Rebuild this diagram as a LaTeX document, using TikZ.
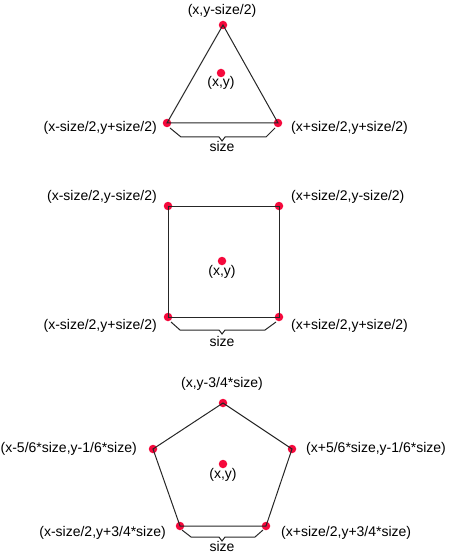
\documentclass[tikz,border=0pt]{standalone}
\usepackage{fontspec}
\setmainfont{Liberation Sans}
\definecolor{dotred}{HTML}{F5093C}

\begin{document}
\begin{tikzpicture}[x=1pt,y=-1pt,
    dot/.style={inner sep=0pt,minimum size=8.5pt,circle,fill=dotred},
    edge/.style={line width=1pt,black!85},
    brace/.style={line width=1pt,black!85,line join=miter},
    lbl/.style={inner sep=0pt,font=\fontsize{14}{16}\selectfont}]
	   \useasboundingbox (0,0) rectangle (450,556);
	   % triangle
	   \begin{scope}
	   \node (t0) at (221,73) [dot] {};
	   \node (t1) at (223,25) [dot] {};
	   \node (t2) at (167,123) [dot] {};
	   \node (t3) at (278,123) [dot] {};
	   \draw [edge]
	     (t1.center) -- (t2.center) -- (t3.center) -- cycle;
	   \draw [brace]
	     ([shift={(3,5)}]t2.center) -- (181,137) -- (219,137) -- (222,141)
	     -- (225,137) -- (266,137) -- ([shift={(-3,5)}]t3.center);
	   \node (lt0) at (221,83) [lbl] {(x,y)};
	   \node (lt1) at (222,11) [lbl] {(x,y-size/2)};
	   \node (lt2) at (157,128) [lbl,anchor=east] {(x-size/2,y+size/2)};
	   \node (lt3) at (291,128) [lbl,anchor=west] {(x+size/2,y+size/2)};
	   \node (st) at (222,152) [lbl,anchor=base] {size};
	   \end{scope}
	   % square
	   \begin{scope}
	   \node (q0) at (222,261) [dot] {};
	   \node (q1) at (168,206) [dot] {};
	   \node (q2) at (279,206) [dot] {};
	   \node (q3) at (279,317) [dot] {};
	   \node (q4) at (168,317) [dot] {};
	   \draw [edge]
	     (q1.center) -- (q2.center) -- (q3.center) -- (q4.center) -- cycle;
	   \draw [brace]
	     ([shift={(3,5)}]q4.center) -- (180,330) -- (219,330) -- (222,334)
	     -- (225,330) -- (265,330) -- ([shift={(-3,5)}]q3.center);
	   \node (lq0) at (222,272) [lbl] {(x,y)};
	   \node (lq1) at (157,197) [lbl,anchor=east] {(x-size/2,y-size/2)};
	   \node (lq2) at (291,197) [lbl,anchor=west] {(x+size/2,y-size/2)};
	   \node (lq3) at (291,326) [lbl,anchor=west] {(x+size/2,y+size/2)};
	   \node (lq4) at (157,326) [lbl,anchor=east] {(x-size/2,y+size/2)};
	   \node (sq) at (222,346) [lbl,anchor=base] {size};
	   \end{scope}
	   % pentagon
	   \begin{scope}
	   \node (p0) at (223,464) [dot] {};
	   \node (p1) at (223,403) [dot] {};
	   \node (p2) at (292,449) [dot] {};
	   \node (p3) at (266,526) [dot] {};
	   \node (p4) at (180,526) [dot] {};
	   \node (p5) at (153,449) [dot] {};
	   \draw [edge]
	     (p1.center) -- (p2.center) -- (p3.center) -- (p4.center)
	     -- (p5.center) -- cycle;
	   \draw [brace]
	     ([shift={(2,4)}]p4.center) -- (191,537) -- (219,537) -- (222,541)
	     -- (225,537) -- (255,537) -- ([shift={(-3,4)}]p3.center);
	   \node (lp0) at (223,475) [lbl] {(x,y)};
	   \node (lp1) at (222,384) [lbl] {(x,y-3/4*size)};
	   \node (lp2) at (306,449) [lbl,anchor=west] {(x+5/6*size,y-1/6*size)};
	   \node (lp3) at (281,533) [lbl,anchor=west] {(x+size/2,y+3/4*size)};
	   \node (lp4) at (166,533) [lbl,anchor=east] {(x-size/2,y+3/4*size)};
	   \node (lp5) at (137,449) [lbl,anchor=east] {(x-5/6*size,y-1/6*size)};
	   \node (sp) at (222,551) [lbl,anchor=base] {size};
	   \end{scope}
\end{tikzpicture}
\end{document}
